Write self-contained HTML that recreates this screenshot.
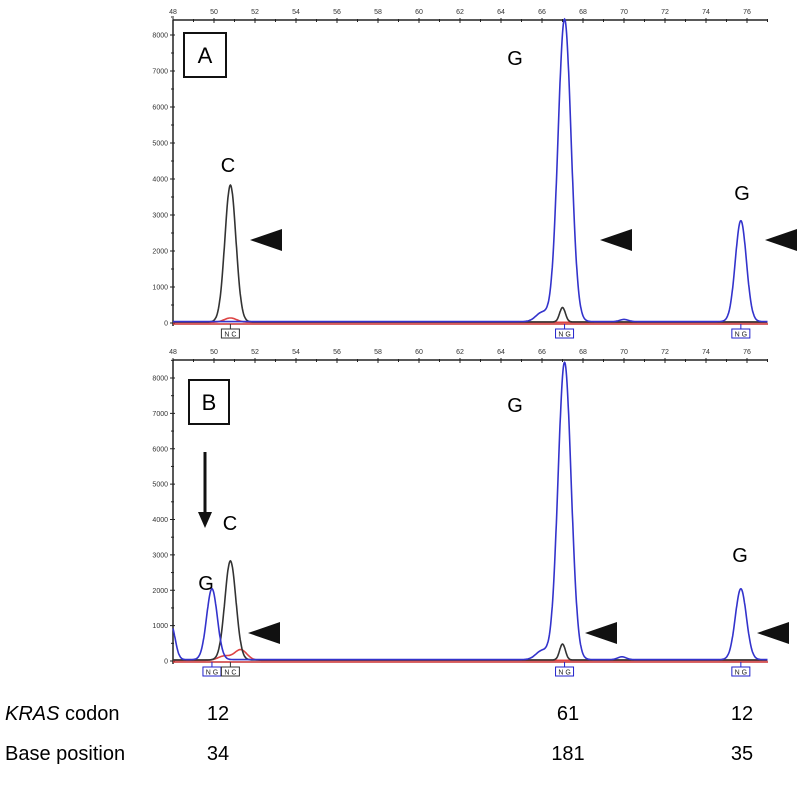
<!DOCTYPE html>
<html><head><meta charset="utf-8"><style>
body{margin:0;background:#fff;width:800px;height:780px;overflow:hidden}
svg text{font-family:"Liberation Sans",sans-serif}
</style></head><body>
<svg width="800" height="780">
<g id="panels"></g>
</svg>
<script>
const xTicks=[48,50,52,54,56,58,60,62,64,66,68,70,72,74,76];
const yTicks=[0,1000,2000,3000,4000,5000,6000,7000,8000];
// peaks: [center, height, width(sd)]
const peaksA_black=[[50.8,3800,0.27],[67.0,400,0.14]];
const peaksA_blue=[[66.0,250,0.3],[67.1,8400,0.32],[75.7,2800,0.27],[70.0,60,0.2]];
const peaksA_red=[[50.8,120,0.3]];
const peaksB_black=[[50.8,2800,0.27],[67.0,450,0.14]];
const peaksB_blue=[[47.9,1000,0.2],[49.9,2000,0.26],[66.0,250,0.3],[67.1,8400,0.32],[75.7,2000,0.27],[69.9,80,0.2]];
const peaksB_red=[[51.3,300,0.3],[50.5,120,0.3]];
const panels=[
 {name:'a',top:20,y0:323,y8:35,letter:'A',box:[184,33,42,44],black:peaksA_black,blue:peaksA_blue,red:peaksA_red,
  labels:[['C',228,172],['G',515,65],['G',742,200]],arrows:[250,600,765],arrowY:240,calls:[[50.8,'C','#333'],[67.1,'G','#22c'],[75.7,'G','#22c']]},
 {name:'b',top:360,y0:661,y8:378,letter:'B',box:[189,380,40,44],black:peaksB_black,blue:peaksB_blue,red:peaksB_red,
  labels:[['G',206,590],['C',230,530],['G',515,412],['G',740,562]],arrows:[248,585,757],arrowY:633,calls:[[49.9,'G','#22c'],[50.8,'C','#333'],[67.1,'G','#22c'],[75.7,'G','#22c']]}
];
const NS='http://www.w3.org/2000/svg';
const root=document.getElementById('panels');
function mk(t,a,p){const e=document.createElementNS(NS,t);for(const k in a)e.setAttribute(k,a[k]);(p||root).appendChild(e);return e;}
const X0=173,PX=20.5;
const xs=v=>X0+(v-48)*PX;
panels.forEach(P=>{
 const ys=v=>P.y0-v*(P.y0-P.y8)/8000;
 const g=mk('g',{});
 
 
 mk('line',{x1:X0,y1:P.top,x2:768,y2:P.top,stroke:'#222','stroke-width':1.5},g);
 mk('line',{x1:X0,y1:P.top,x2:X0,y2:P.y0+3,stroke:'#222','stroke-width':1.5},g);
 xTicks.forEach(t=>{mk('line',{x1:xs(t),y1:P.top-2,x2:xs(t),y2:P.top+3,stroke:'#222'},g);
  const tx=mk('text',{x:xs(t),y:P.top-6,'font-size':7,'text-anchor':'middle',fill:'#333'},g);tx.textContent=t;
  mk('line',{x1:xs(t+1),y1:P.top-1,x2:xs(t+1),y2:P.top+2,stroke:'#222'},g);});
 yTicks.forEach(t=>{mk('line',{x1:X0-3,y1:ys(t),x2:X0+2,y2:ys(t),stroke:'#222'},g);
  mk('line',{x1:X0-2,y1:ys(t+500),x2:X0+1,y2:ys(t+500),stroke:'#222'},g);
  const tx=mk('text',{x:X0-5,y:ys(t)+2.5,'font-size':7,'text-anchor':'end',fill:'#333'},g);tx.textContent=t;});
 const trace=(pk,col,nm,base)=>{let d='';for(let x=48;x<=77;x+=0.02){let v=base;pk.forEach(p=>{v+=p[1]*Math.exp(-((x-p[0])**2)/(2*p[2]*p[2]))});d+=(d?'L':'M')+xs(x).toFixed(1)+','+ys(v).toFixed(1);}
  const e=mk('path',{d:d,fill:'none',stroke:col,'stroke-width':1.6},g);
  };
 mk('line',{x1:X0,y1:P.y0+1,x2:768,y2:P.y0+1,stroke:'#c33','stroke-width':1.5},g);
 trace(P.red,'#d44','red-trace',20);
 trace(P.black,'#333','black-trace',30);
 trace(P.blue,'#33c','blue-trace',40);
 const bx=mk('rect',{x:P.box[0],y:P.box[1],width:P.box[2],height:P.box[3],fill:'#fff',stroke:'#111','stroke-width':2},g);
 
 const lt=mk('text',{x:P.box[0]+P.box[2]/2,y:P.box[1]+P.box[3]/2+8,'font-size':22,'text-anchor':'middle'},g);lt.textContent=P.letter;
 P.labels.forEach(l=>{const t=mk('text',{x:l[1],y:l[2],'font-size':20,'text-anchor':'middle'},g);t.textContent=l[0];
  });
 P.arrows.forEach(ax=>{const a=mk('polygon',{points:`${ax},${P.arrowY} ${ax+32},${P.arrowY-11} ${ax+32},${P.arrowY+11}`,fill:'#111'},g);
  });
 P.calls.forEach(c=>{const cx=xs(c[0]);mk('line',{x1:cx,y1:P.y0+1,x2:cx,y2:P.y0+6,stroke:c[2]},g);
  mk('rect',{x:cx-9,y:P.y0+6,width:18,height:9,fill:'#fff',stroke:c[2]},g);
  const t=mk('text',{x:cx,y:P.y0+13.5,'font-size':7,'text-anchor':'middle',fill:'#222'},g);t.textContent='N '+c[1];});
});
// arrow in panel B
const ar=mk('g',{});
mk('line',{x1:205,y1:452,x2:205,y2:515,stroke:'#111','stroke-width':3},ar);
mk('polygon',{points:'198,512 212,512 205,528',fill:'#111'},ar);
// bottom labels
const rows=[['codon',720,['12','61','12']],['base',760,['34','181','35']]];
const colX=[218,568,742];
rows.forEach(r=>{r[2].forEach((v,i)=>{const t=mk('text',{x:colX[i],y:r[1],'font-size':20,'text-anchor':'middle'});t.textContent=v;
 });});
const t1=mk('text',{x:5,y:720,'font-size':20});t1.innerHTML='<tspan font-style="italic">KRAS</tspan> codon';

const t2=mk('text',{x:5,y:760,'font-size':20});t2.textContent='Base position';

</script>
</body></html>
